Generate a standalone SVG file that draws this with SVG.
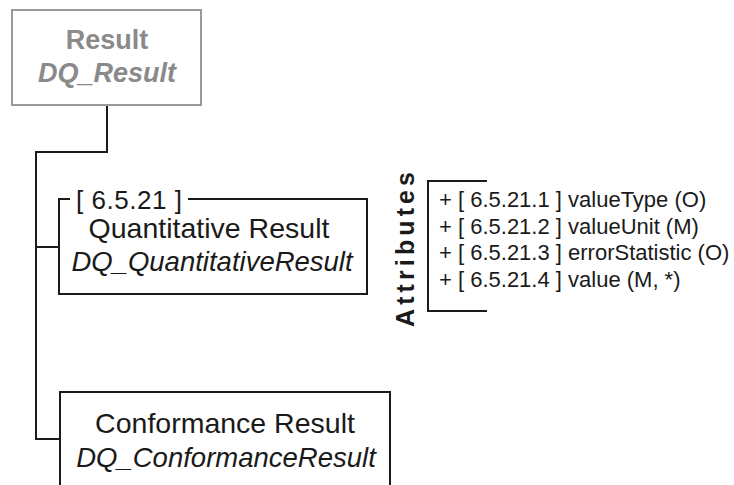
<svg xmlns="http://www.w3.org/2000/svg" width="734" height="485" viewBox="0 0 734 485">
<style>
.t{font-family:"Liberation Sans",Arial,sans-serif;fill:#1a1a1a}
.n{font-size:28.5px}
.i{font-size:27.5px;font-style:italic}
.g{fill:#8a8a8a;font-weight:bold;font-size:27px}
.a{font-size:22px}
.ln{fill:none;stroke:#1a1a1a;stroke-width:2}
</style>
<rect width="734" height="485" fill="#fff"/>
<g id="connectors">
<path class="ln" d="M107,105 V152 H36 V439 H60"/>
<path class="ln" d="M36,247 H59"/>
</g>
<g id="result">
<rect x="12" y="10" width="189" height="95" fill="#fff" stroke="#9a9a9a" stroke-width="2"/>
<text class="t g" x="107" y="49" text-anchor="middle">Result</text>
<text class="t g" x="107" y="82" text-anchor="middle" font-style="italic">DQ_Result</text>
</g>
<g id="quantitative">
<path class="ln" d="M70,199 H59 V294 H367 V199 H188"/>
<text class="t" x="76" y="209" font-size="26" textLength="106" lengthAdjust="spacing">[ 6.5.21 ]</text>
<text class="t n" x="209" y="238" text-anchor="middle">Quantitative Result</text>
<text class="t i" x="212" y="271" text-anchor="middle">DQ_QuantitativeResult</text>
</g>
<g id="attributes">
<text class="t" transform="translate(414,327) rotate(-90)" font-size="25" font-weight="bold" textLength="155" lengthAdjust="spacing">Attributes</text>
<path class="ln" d="M487,181 H428 V311 H487"/>
<text class="t a" x="439" y="207">+ [ 6.5.21.1 ] valueType (O)</text>
<text class="t a" x="439" y="234">+ [ 6.5.21.2 ] valueUnit (M)</text>
<text class="t a" x="439" y="260">+ [ 6.5.21.3 ] errorStatistic (O)</text>
<text class="t a" x="439" y="287">+ [ 6.5.21.4 ] value (M, *)</text>
</g>
<g id="conformance">
<rect class="ln" x="60" y="392" width="330" height="120"/>
<text class="t n" x="225" y="433" text-anchor="middle">Conformance Result</text>
<text class="t i" x="226" y="467" text-anchor="middle">DQ_ConformanceResult</text>
</g>
</svg>
